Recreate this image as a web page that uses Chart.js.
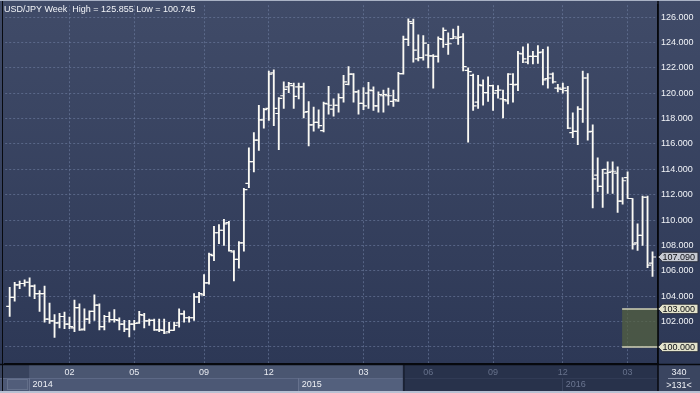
<!DOCTYPE html>
<html>
<head>
<meta charset="utf-8">
<title>USD/JPY Week</title>
<script src="https://cdn.jsdelivr.net/npm/chart.js@4.4.1/dist/chart.umd.min.js"></script>
<style>
  html, body { margin: 0; padding: 0; background: #2e3a58; }
  #wrap { width: 700px; height: 393px; }
</style>
</head>
<body>
<div id="wrap"><canvas id="chart" width="700" height="393"></canvas></div>
<script>
// weekly OHLC
const OPEN = [
  103.2, 103.9, 104.9, 105.0, 105.1, 104.8, 104.2, 104.2, 102.2, 102.05,
  101.9, 102.4, 101.8, 101.5, 103.1, 101.4, 102.2, 102.8, 103.3, 101.6,
  102.4, 102.15, 102.1, 101.8, 101.4, 101.8, 101.9, 102.5, 102.05, 102.1,
  101.35, 101.3, 101.2, 101.3, 101.9, 102.6, 102.3, 102.3, 103.95, 104.1,
  105.05, 107.2, 109.0, 109.2, 109.8, 107.5, 106.9, 108.2, 112.9, 114.6,
  116.3, 117.9, 118.8, 121.6, 118.4, 119.8, 120.5, 120.6, 120.5, 120.5,
  118.55, 117.5, 117.7, 117.05, 119.15, 118.75, 119.05, 119.65, 120.7, 121.5,
  120.1, 119.2, 120.0, 120.2, 119.0, 119.8, 119.8, 119.35, 119.4, 121.55,
  124.25, 125.5, 122.7, 122.8, 123.0, 122.95, 122.9, 124.25, 123.85, 124.3,
  124.35, 124.45, 121.8, 121.4, 119.3, 120.6, 120.05, 120.6, 120.2, 119.55,
  119.4, 120.7, 120.7, 123.1, 122.45, 122.9, 122.9, 123.25, 121.15, 121.5,
  120.4, 120.3, 120.2, 116.9, 117.0, 118.75, 121.2, 117.0, 113.55, 112.65,
  113.7, 113.85, 113.7, 111.5, 113.35, 111.7, 108.2, 108.8, 111.8, 106.6
];
const HIGH = [
  104.7, 105.1, 105.2, 105.3, 105.45, 104.9, 104.45, 104.8, 103.45, 102.55,
  102.65, 102.75, 102.35, 103.7, 103.4, 103.0, 102.85, 104.1, 103.4, 102.5,
  102.75, 102.95, 102.3, 102.1, 102.1, 102.1, 102.8, 102.65, 102.2, 102.2,
  102.2, 102.2, 101.95, 101.95, 103.0, 102.85, 102.4, 104.2, 104.3, 105.7,
  107.4, 109.5, 109.65, 110.05, 109.9, 107.6, 108.3, 112.5, 115.7, 116.9,
  119.05, 118.8, 121.75, 121.85, 119.65, 120.9, 120.85, 120.8, 120.8, 120.8,
  119.35, 118.9, 118.7, 119.3, 120.55, 119.55, 119.95, 121.4, 122.1, 121.55,
  120.25, 120.45, 120.85, 120.5, 120.1, 120.25, 120.4, 120.25, 121.65, 124.5,
  125.855, 125.85, 124.6, 124.55, 123.85, 123.05, 124.45, 125.15, 124.75, 125.05,
  125.3, 124.7, 122.0, 121.5, 121.4, 121.05, 121.3, 120.65, 120.6, 120.25,
  121.55, 121.55, 123.3, 123.65, 123.9, 123.3, 123.75, 123.45, 123.65, 121.6,
  120.7, 120.8, 120.55, 118.45, 118.95, 121.75, 121.55, 117.5, 114.9, 114.0,
  114.6, 114.6, 114.2, 113.35, 113.8, 111.7, 109.7, 111.9, 111.9, 107.5
];
const LOW = [
  102.4, 103.6, 104.6, 104.8, 104.0, 103.8, 102.8, 101.95, 101.85, 100.745,
  101.5, 101.45, 101.45, 101.2, 101.3, 101.3, 101.85, 102.1, 101.35, 101.35,
  101.95, 101.95, 101.35, 101.2, 100.8, 101.35, 101.85, 101.5, 101.7, 101.3,
  101.2, 101.05, 101.1, 101.3, 101.55, 101.95, 101.95, 102.1, 103.5, 104.05,
  104.95, 106.8, 108.15, 108.0, 107.55, 105.2, 106.2, 107.55, 112.55, 113.8,
  115.5, 117.25, 117.85, 117.45, 115.55, 118.8, 120.05, 118.8, 119.55, 118.05,
  115.85, 117.0, 117.25, 116.95, 118.35, 118.2, 118.5, 119.3, 120.65, 119.3,
  118.35, 118.7, 118.8, 118.65, 118.5, 118.5, 119.05, 118.95, 119.35, 121.5,
  123.75, 122.45, 122.55, 122.6, 122.0, 120.4, 122.45, 123.6, 123.05, 124.3,
  123.85, 121.75, 116.15, 118.65, 118.8, 119.05, 119.35, 118.65, 119.6, 118.05,
  119.15, 119.3, 120.2, 122.4, 122.3, 122.3, 122.35, 120.65, 120.4, 120.8,
  120.1, 120.0, 117.2, 116.5, 115.95, 117.7, 116.3, 110.95, 112.25, 111.0,
  112.1, 112.1, 110.6, 111.25, 111.7, 107.7, 107.6, 108.0, 106.25, 105.55
];
const CLOSE = [
  103.9, 104.9, 105.0, 105.1, 104.8, 104.2, 104.2, 102.2, 102.05, 101.9,
  102.4, 101.8, 101.6, 103.1, 101.35, 102.2, 102.8, 103.3, 101.6, 102.4,
  102.15, 102.15, 101.8, 101.4, 101.8, 101.85, 102.55, 102.05, 102.1, 101.35,
  101.35, 101.1, 101.3, 101.7, 102.6, 102.3, 102.3, 103.95, 104.2, 105.05,
  107.3, 109.0, 109.2, 109.7, 107.6, 106.9, 108.2, 112.4, 114.6, 116.3,
  117.9, 118.7, 121.5, 118.8, 119.6, 120.3, 120.75, 119.75, 120.5, 118.5,
  117.5, 117.7, 117.45, 119.2, 119.05, 119.05, 119.65, 120.9, 121.5, 120.1,
  119.2, 119.0, 120.25, 119.0, 119.9, 119.9, 119.8, 119.5, 121.55, 124.25,
  125.65, 123.4, 122.8, 123.95, 122.95, 122.9, 124.3, 124.95, 123.9, 124.45,
  124.4, 122.1, 121.7, 119.0, 120.65, 120.05, 120.6, 120.0, 120.25, 119.5,
  121.5, 120.65, 123.15, 122.7, 122.9, 122.9, 123.2, 121.05, 121.2, 120.9,
  120.4, 120.4, 117.25, 117.0, 118.75, 121.2, 116.95, 113.25, 112.65, 114.0,
  113.75, 113.85, 111.5, 113.1, 111.7, 108.1, 108.8, 111.8, 106.45, 107.09
];

// time axis: bar index of each month gridline, and its label
const MONTH_AT     = [12, 25, 39, 52, 71, 84, 97, 111, 124];
const MONTH_LABELS = ['02', '05', '09', '12', '03', '06', '09', '12', '03'];
const YEAR_AT      = [3.9, 57.9, 110.9];
const YEAR_LABELS  = ['2014', '2015', '2016'];
const SHADE_FROM   = 79.1;   // time strip is dimmed right of this bar

const Y_TICKS = [100, 102, 104, 106, 108, 110, 112, 114, 116, 118, 120, 122, 124, 126];

const TITLE      = 'USD/JPY Week  High = 125.855 Low = 100.745';
const LAST_PRICE = 107.09;
const ZONE_HIGH  = 103;
const ZONE_LOW   = 100;
const ZONE_FROM  = 122.9;

const FONT_FAMILY = '"Liberation Sans", Arial, sans-serif';
const CSS_FONT = '9px ' + FONT_FAMILY;
const BAR_COLOR = '#fbfaf4';
const TICK_OFF = 0.35;   // open/close tick offset, in bars

function priceTag(ctx, y, text, fill, stroke) {
  const x0 = 658, x1 = 698, h = 9.5;
  ctx.beginPath();
  ctx.moveTo(x0, y);
  ctx.lineTo(x0 + 4.5, y - h / 2);
  ctx.lineTo(x1, y - h / 2);
  ctx.lineTo(x1, y + h / 2);
  ctx.lineTo(x0 + 4.5, y + h / 2);
  ctx.closePath();
  ctx.fillStyle = fill;
  ctx.fill();
  ctx.strokeStyle = stroke;
  ctx.lineWidth = 1;
  ctx.stroke();
  ctx.fillStyle = '#0c0e14';
  ctx.font = CSS_FONT;
  ctx.textAlign = 'left';
  ctx.textBaseline = 'middle';
  ctx.fillText(text, 662.5, y + 0.5);
}

const chrome = {
  id: 'chrome',
  beforeDraw(chart) {
    const { ctx, chartArea: ca, width, height } = chart;
    const sx = chart.scales.x;
    ctx.save();
    const g = ctx.createLinearGradient(0, 0, 0, ca.bottom);
    g.addColorStop(0, '#404b68');
    g.addColorStop(1, '#2d3856');
    ctx.fillStyle = g;
    ctx.fillRect(0, 0, width, ca.bottom);

    // time strip under the plot
    const top = ca.bottom, mid = top + 14, bot = height - 2;
    const xDim = sx.getPixelForValue(SHADE_FROM);
    const xs = YEAR_AT.map(v => sx.getPixelForValue(v));
    ctx.fillStyle = '#4a5671'; ctx.fillRect(0, top, xDim, mid - top);
    ctx.fillStyle = '#38435d'; ctx.fillRect(0, top, xs[0], mid - top);
    ctx.fillStyle = '#4c5875'; ctx.fillRect(0, mid, xDim, bot - mid);
    ctx.fillStyle = '#53607d'; ctx.fillRect(xs[1], mid, xDim - xs[1], bot - mid);
    ctx.fillStyle = '#28324b'; ctx.fillRect(xDim, top, ca.right - xDim, bot - top);
    ctx.fillStyle = '#3a4560'; ctx.fillRect(ca.right, top, width - ca.right, bot - top);

    ctx.strokeStyle = '#5d6986'; ctx.lineWidth = 1;
    ctx.beginPath(); ctx.moveTo(0, mid + 0.5); ctx.lineTo(xDim, mid + 0.5); ctx.stroke();
    ctx.strokeStyle = '#313b55';
    ctx.beginPath(); ctx.moveTo(xDim, mid + 0.5); ctx.lineTo(ca.right, mid + 0.5); ctx.stroke();
    ctx.strokeStyle = '#66718d';
    [xs[0], xs[1]].forEach(x => {
      ctx.beginPath(); ctx.moveTo(Math.round(x) + 0.5, mid); ctx.lineTo(Math.round(x) + 0.5, bot); ctx.stroke();
    });
    ctx.strokeStyle = '#3a4560';
    ctx.beginPath(); ctx.moveTo(Math.round(xs[2]) + 0.5, mid); ctx.lineTo(Math.round(xs[2]) + 0.5, bot); ctx.stroke();
    ctx.strokeStyle = '#1b2234'; ctx.lineWidth = 2;
    ctx.beginPath(); ctx.moveTo(xDim, top); ctx.lineTo(xDim, bot); ctx.stroke();
    // small box at the left end of the year row
    ctx.fillStyle = '#515d7a'; ctx.fillRect(7, mid + 1, xs[0] - 8, bot - mid - 2);
    ctx.strokeStyle = '#65718c'; ctx.lineWidth = 1;
    ctx.strokeRect(7.5, mid + 1.5, xs[0] - 9, bot - mid - 3);
    ctx.restore();
  },
  beforeDatasetsDraw(chart) {
    const { ctx, chartArea: ca } = chart;
    const sx = chart.scales.x, sy = chart.scales.y;
    const x0 = sx.getPixelForValue(ZONE_FROM);
    const yT = sy.getPixelForValue(ZONE_HIGH), yB = sy.getPixelForValue(ZONE_LOW);
    ctx.save();
    ctx.fillStyle = 'rgba(86,99,63,0.7)';
    ctx.fillRect(x0, yT, ca.right - x0, yB - yT);
    ctx.strokeStyle = '#cfcfb6';
    ctx.lineWidth = 1.5;
    ctx.beginPath();
    ctx.moveTo(x0, yT); ctx.lineTo(ca.right, yT);
    ctx.moveTo(x0, yB); ctx.lineTo(ca.right, yB);
    ctx.stroke();
    ctx.restore();
  },
  afterDraw(chart) {
    const { ctx, chartArea: ca, width, height } = chart;
    const sx = chart.scales.x, sy = chart.scales.y;
    const top = ca.bottom, bot = height - 2;
    ctx.save();

    // title
    ctx.font = CSS_FONT;
    ctx.fillStyle = '#f2f4f8';
    ctx.textAlign = 'left';
    ctx.textBaseline = 'alphabetic';
    ctx.fillText(TITLE, 4, 11.5);

    // year row
    YEAR_LABELS.forEach((t, i) => {
      const x = sx.getPixelForValue(YEAR_AT[i]);
      ctx.fillStyle = YEAR_AT[i] < SHADE_FROM ? '#eef0f5' : '#6b7691';
      ctx.fillText(t, x + 3.5, 387);
    });

    // corner box
    ctx.textAlign = 'center';
    ctx.fillStyle = '#eef0f5';
    ctx.fillText('340', 679, 374.5);
    ctx.fillText('>131<', 679, 387.5);
    ctx.strokeStyle = '#8a93aa';
    ctx.lineWidth = 1;
    ctx.beginPath(); ctx.moveTo(668, 378.5); ctx.lineTo(690, 378.5); ctx.stroke();

    // frame lines
    ctx.strokeStyle = '#07090e';
    ctx.lineWidth = 1.5;
    ctx.beginPath(); ctx.moveTo(0, top + 0.5); ctx.lineTo(width, top + 0.5); ctx.stroke();
    ctx.beginPath(); ctx.moveTo(ca.right, 0); ctx.lineTo(ca.right, bot); ctx.stroke();
    ctx.lineWidth = 1;
    ctx.beginPath(); ctx.moveTo(2.5, 0); ctx.lineTo(2.5, bot); ctx.stroke();
    ctx.fillStyle = '#b8c1d3';
    ctx.fillRect(0, bot, width, 2);
    ctx.fillStyle = '#a9b2c5';
    ctx.fillRect(0, 0, width, 1);

    // price tags
    priceTag(ctx, sy.getPixelForValue(LAST_PRICE), LAST_PRICE.toFixed(3), '#c5c9d2', '#2a2f3c');
    priceTag(ctx, sy.getPixelForValue(ZONE_HIGH), ZONE_HIGH.toFixed(3), '#e3e3cb', '#2a2f3c');
    priceTag(ctx, sy.getPixelForValue(ZONE_LOW), ZONE_LOW.toFixed(3), '#e3e3cb', '#2a2f3c');
    ctx.restore();
  }
};

const tickPoint = {
  type: 'scatter',
  pointStyle: 'line',
  pointRadius: 1.75,
  pointBorderWidth: 1.2,
  pointBorderColor: BAR_COLOR,
  pointBackgroundColor: BAR_COLOR
};

new Chart(document.getElementById('chart'), {
  type: 'bar',
  data: {
    datasets: [
      {
        type: 'bar',
        data: HIGH.map((h, i) => ({ x: i, y: [LOW[i], h] })),
        backgroundColor: BAR_COLOR,
        borderWidth: 0,
        barThickness: 1.2
      },
      Object.assign({ data: OPEN.map((o, i) => ({ x: i - TICK_OFF, y: o })) }, tickPoint),
      Object.assign({ data: CLOSE.map((c, i) => ({ x: i + TICK_OFF, y: c })) }, tickPoint)
    ]
  },
  options: {
    responsive: false,
    animation: false,
    events: [],
    layout: { padding: { left: 3, top: 2, right: 0, bottom: 0 } },
    plugins: { legend: { display: false }, tooltip: { enabled: false } },
    scales: {
      x: {
        type: 'linear',
        min: -0.9,
        max: 130.1,
        offset: false,
        afterBuildTicks: s => { s.ticks = MONTH_AT.map(v => ({ value: v })); },
        afterFit: s => { s.height = 29; s.paddingLeft = 0; s.paddingRight = 0; },
        grid: { offset: false, color: 'rgba(112,127,162,0.6)', lineWidth: 1, drawTicks: false },
        border: { display: true, color: '#07090e', width: 1.5, dash: [2, 2] },
        ticks: {
          autoSkip: false,
          maxRotation: 0,
          minRotation: 0,
          padding: 3,
          font: { family: FONT_FAMILY, size: 9 },
          color: c => (MONTH_AT[c.index] < SHADE_FROM ? '#e8ebf1' : '#66718b'),
          callback: (v, i) => MONTH_LABELS[i]
        }
      },
      y: {
        position: 'right',
        min: 98.65625,
        max: 126.9375,
        afterBuildTicks: s => { s.ticks = Y_TICKS.map(v => ({ value: v })); },
        afterFit: s => { s.width = 42; s.paddingTop = 0; s.paddingBottom = 0; },
        grid: { color: 'rgba(112,127,162,0.6)', lineWidth: 1, drawTicks: false },
        border: { display: true, color: '#07090e', width: 1.5, dash: [2, 2] },
        ticks: {
          padding: 3,
          font: { family: FONT_FAMILY, size: 9 },
          color: '#f2f4f8',
          callback: v => (v === ZONE_LOW ? '' : v.toFixed(3))
        }
      }
    }
  },
  plugins: [chrome]
});
</script>
</body>
</html>
